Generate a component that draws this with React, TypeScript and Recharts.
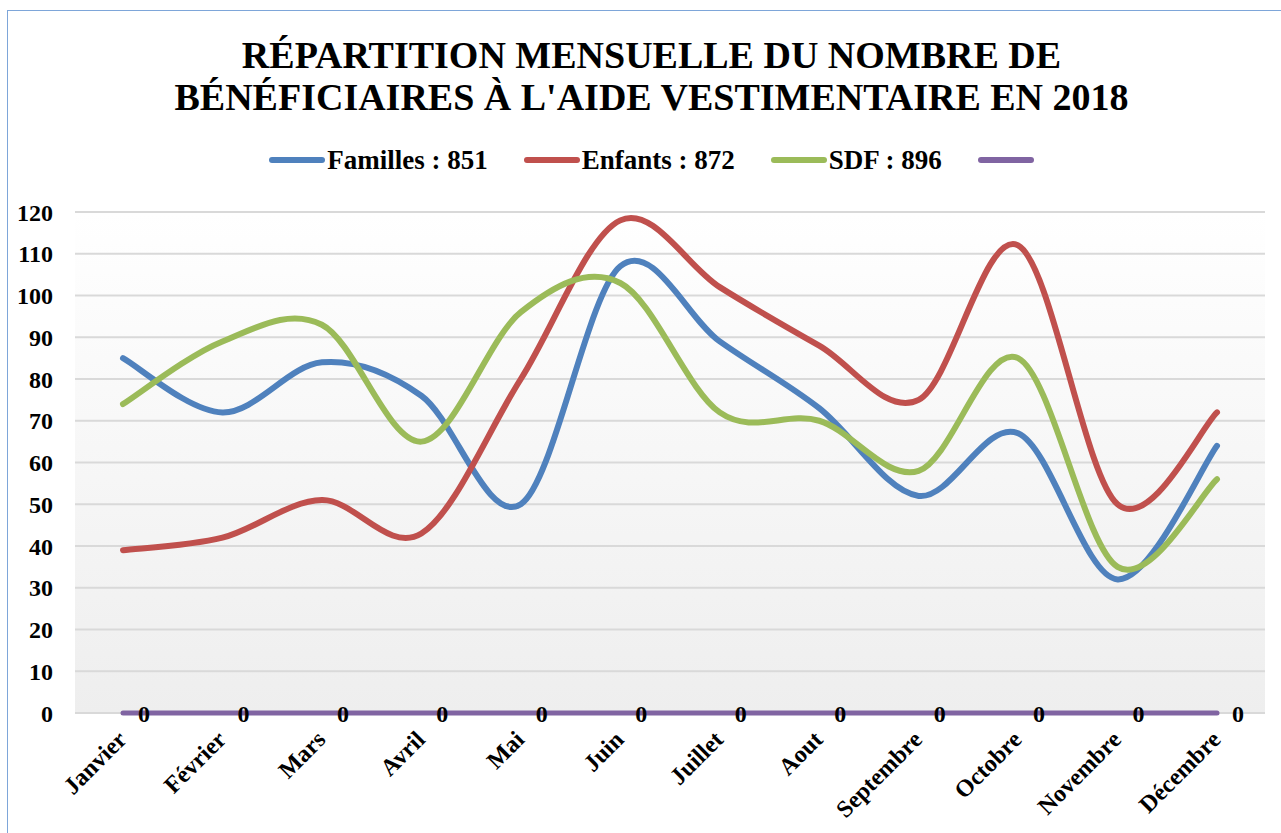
import React from 'react'
import { LineChart, Line, XAxis, YAxis, CartesianGrid, LabelList } from 'recharts'

const months = ['Janvier', 'Février', 'Mars', 'Avril', 'Mai', 'Juin', 'Juillet', 'Aout', 'Septembre', 'Octobre', 'Novembre', 'Décembre']
const familles = [85, 72, 84, 76, 50, 107, 89, 73, 52, 67, 32, 64]
const enfants = [39, 42, 51, 43, 80, 118, 102, 88, 75, 112, 50, 72]
const sdf = [74, 89, 93, 65, 96, 103, 72, 70, 58, 85, 35, 56]
const autre = [0, 0, 0, 0, 0, 0, 0, 0, 0, 0, 0, 0]
const yTicks = [0, 10, 20, 30, 40, 50, 60, 70, 80, 90, 100, 110, 120]

const series = [
  { key: 'familles', name: 'Familles : 851', color: '#4f81bd' },
  { key: 'enfants', name: 'Enfants : 872', color: '#c0504d' },
  { key: 'sdf', name: 'SDF : 896', color: '#9bbb59' },
  { key: 'autre', name: '', color: '#8064a2' },
]

const data = months.map((m, i) => ({
  month: m,
  familles: familles[i],
  enfants: enfants[i],
  sdf: sdf[i],
  autre: autre[i],
}))

const FONT = '"Liberation Serif", "Times New Roman", serif'

// excel-like smoothed line (catmull-rom through every point)
function excelSmooth(context: any) {
  let pts: [number, number][] = []
  return {
    areaStart() {},
    areaEnd() {},
    lineStart() {
      pts = []
    },
    lineEnd() {
      const n = pts.length
      if (!n) return
      context.moveTo(pts[0][0], pts[0][1])
      for (let i = 0; i < n - 1; i++) {
        const p0 = pts[i - 1] || pts[i]
        const p1 = pts[i]
        const p2 = pts[i + 1]
        const p3 = pts[i + 2] || p2
        context.bezierCurveTo(
          p1[0] + (p2[0] - p0[0]) / 6,
          p1[1] + (p2[1] - p0[1]) / 6,
          p2[0] - (p3[0] - p1[0]) / 6,
          p2[1] - (p3[1] - p1[1]) / 6,
          p2[0],
          p2[1]
        )
      }
    },
    point(x: number, y: number) {
      pts.push([+x, +y])
    },
  }
}

const MonthTick = ({ x, y, payload }: any) => (
  <text
    x={x + 5}
    y={y + 20}
    transform={`rotate(-45, ${x + 5}, ${y + 20})`}
    textAnchor="end"
    style={{ fontFamily: FONT, fontWeight: 700, fontSize: 24, fill: '#000' }}
  >
    {payload.value}
  </text>
)

export default function App() {
  return (
    <div style={{ position: 'absolute', left: 0, top: 0, width: 1281, height: 833, overflow: 'hidden', background: '#fff', fontFamily: FONT }}>
      <div style={{ position: 'absolute', left: 7, top: 10, width: 1300, height: 900, border: '1.5px solid #7ea6d9' }} />
      <div
        style={{
          position: 'absolute',
          left: 11,
          top: 34,
          width: 1281,
          textAlign: 'center',
          fontWeight: 700,
          fontSize: 38,
          lineHeight: '42px',
          color: '#000',
        }}
      >
        RÉPARTITION MENSUELLE DU NOMBRE DE
        <br />
        BÉNÉFICIAIRES À L'AIDE VESTIMENTAIRE EN 2018
      </div>
      <div
        style={{
          position: 'absolute',
          left: 11,
          top: 144,
          width: 1281,
          display: 'flex',
          justifyContent: 'center',
          alignItems: 'center',
          gap: 36,
          fontWeight: 700,
          fontSize: 27,
          height: 32,
        }}
      >
        {series.map((s) => (
          <div key={s.key} style={{ display: 'flex', alignItems: 'center', gap: 2 }}>
            <div style={{ width: 56, height: 6, borderRadius: 3, background: s.color }} />
            {s.name && <span>{s.name}</span>}
          </div>
        ))}
      </div>
      <div style={{ position: 'absolute', left: 0, top: 0 }}>
        <LineChart width={1281} height={833} data={data} margin={{ top: 212, right: 16, left: 20, bottom: 10 }}>
          <defs>
            <linearGradient id="plotBg" x1="0" y1="0" x2="0" y2="1">
              <stop offset="0%" stopColor="#ffffff" />
              <stop offset="100%" stopColor="#eeeeee" />
            </linearGradient>
          </defs>
          <CartesianGrid vertical={false} stroke="#d9d9d9" strokeWidth={2} fill="url(#plotBg)" />
          <XAxis
            dataKey="month"
            interval={0}
            axisLine={false}
            tickLine={false}
            height={110}
            padding={{ left: 48, right: 48 }}
            tick={<MonthTick />}
          />
          <YAxis
            domain={[0, 120]}
            ticks={yTicks}
            interval={0}
            axisLine={false}
            tickLine={false}
            width={55}
            tick={{ fontFamily: FONT, fontWeight: 700, fontSize: 24, fill: '#000', dx: -14 }}
          />
          {series.map((s) => (
            <Line
              key={s.key}
              dataKey={s.key}
              name={s.name}
              type={excelSmooth as any}
              stroke={s.color}
              strokeWidth={s.key === 'autre' ? 5 : 6}
              strokeLinecap="round"
              dot={false}
              activeDot={false}
              isAnimationActive={false}
            >
              {s.key === 'autre' && (
                <LabelList
                  dataKey="autre"
                  position="right"
                  offset={15}
                  style={{ fontFamily: FONT, fontWeight: 700, fontSize: 24, fill: '#000' }}
                />
              )}
            </Line>
          ))}
        </LineChart>
      </div>
    </div>
  )
}
